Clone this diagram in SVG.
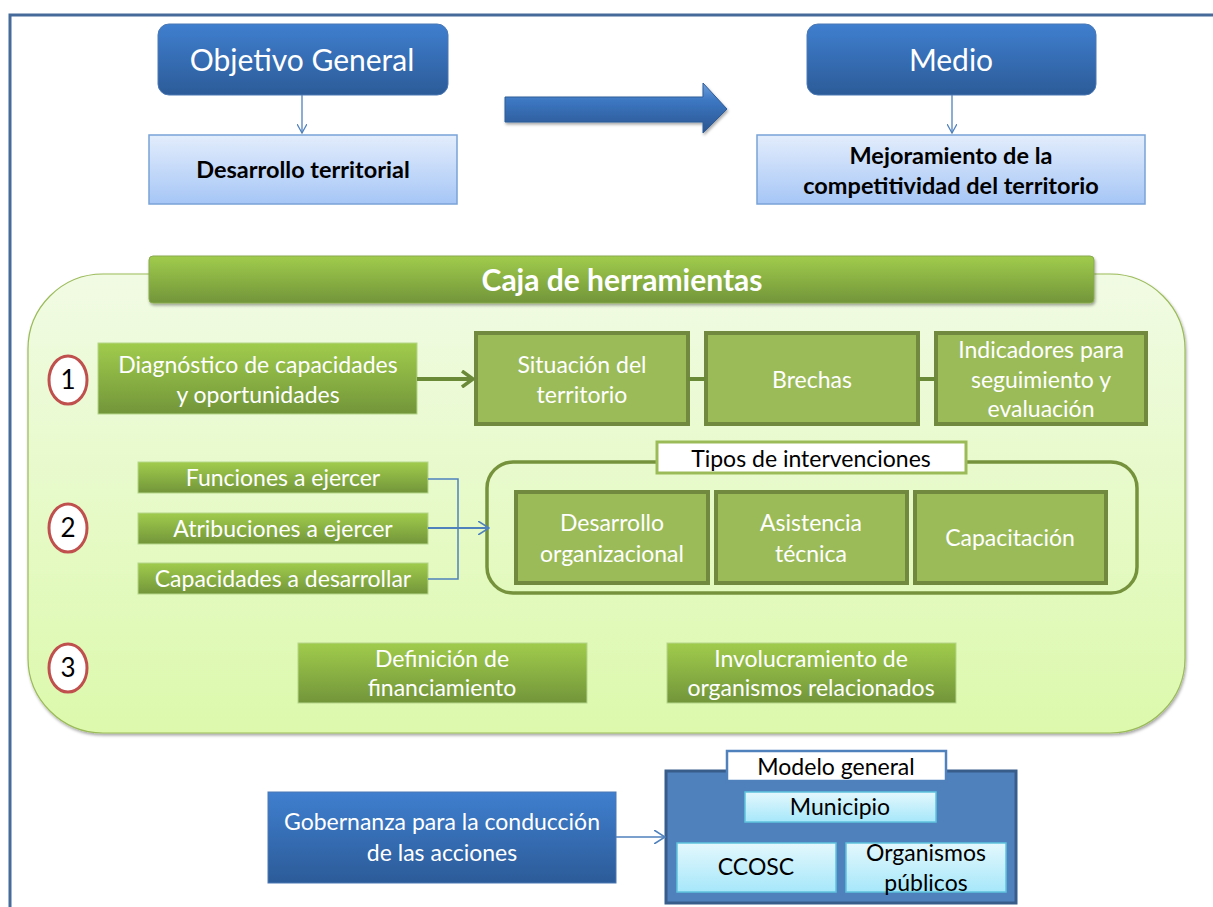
<svg xmlns="http://www.w3.org/2000/svg" width="1213" height="907" viewBox="0 0 1213 907">
<defs>
<linearGradient id="gBlue" x1="0" y1="0" x2="0" y2="1"><stop offset="0" stop-color="#3f7fcf"/><stop offset="1" stop-color="#2c5b98"/></linearGradient>
<linearGradient id="gLight" x1="0" y1="0" x2="0" y2="1"><stop offset="0" stop-color="#e3edfc"/><stop offset="1" stop-color="#a6c6f6"/></linearGradient>
<linearGradient id="gGreen" x1="0" y1="0" x2="0" y2="1"><stop offset="0" stop-color="#a0cc4c"/><stop offset="1" stop-color="#72953a"/></linearGradient>
<linearGradient id="gCaja" x1="0" y1="0" x2="0" y2="1"><stop offset="0" stop-color="#f1fbe4"/><stop offset="1" stop-color="#dcf9ac"/></linearGradient>
<linearGradient id="gCyan" x1="0" y1="0" x2="0" y2="1"><stop offset="0" stop-color="#e4f8fd"/><stop offset="1" stop-color="#a6e7fa"/></linearGradient>
<linearGradient id="gArrow" x1="0" y1="0" x2="0" y2="1"><stop offset="0" stop-color="#6fa0de"/><stop offset="0.35" stop-color="#3c77c2"/><stop offset="1" stop-color="#2a5590"/></linearGradient>
<filter id="sh" x="-5%" y="-5%" width="110%" height="120%"><feDropShadow dx="1" dy="2" stdDeviation="1.5" flood-color="#000" flood-opacity="0.35"/></filter>
<marker id="mBlue" viewBox="0 0 10 10" refX="9" refY="5" markerWidth="10" markerHeight="10" markerUnits="userSpaceOnUse" orient="auto"><path d="M0,0 L9,5 L0,10" fill="none" stroke="#4f81bd" stroke-width="1.3"/></marker>
<marker id="mBlueL" viewBox="0 0 12 14" refX="11" refY="7" markerWidth="12" markerHeight="14" markerUnits="userSpaceOnUse" orient="auto"><path d="M0,0 L11,7 L0,14" fill="none" stroke="#4f81bd" stroke-width="1.6"/></marker>
<marker id="mGreen" viewBox="0 0 14 18" refX="12" refY="9" markerWidth="14" markerHeight="18" markerUnits="userSpaceOnUse" orient="auto"><path d="M1,1 L12,9 L1,17" fill="none" stroke="#6a8a38" stroke-width="3.5"/></marker>
</defs>
<style>
text{font-family:Lato,"Liberation Sans",sans-serif;text-anchor:middle}
.w{fill:#ffffff;font-size:23px}
.k{fill:#000000;font-size:23px}
.b{fill:#000000;font-size:23.5px;font-weight:bold}
.big{fill:#ffffff;font-size:30px}
.num{fill:#000000;font-size:26px}
.blueBox{fill:url(#gBlue);stroke:#4a78b4;stroke-width:1}
.lightBox{fill:url(#gLight);stroke:#7aa2d8;stroke-width:1.5}
.greenBox{fill:url(#gGreen);stroke:#b5d68a;stroke-width:1}
.olive{fill:#9bbb59;stroke:#71893f;stroke-width:4}
.cyanBox{fill:url(#gCyan);stroke:#5fc2dd;stroke-width:1.5}
.circ{fill:#ffffff;stroke:#c0504d;stroke-width:3}
</style>

<g id="frame"><path d="M10,907 L10,15 L1213,15" fill="none" stroke="#466a9a" stroke-width="3"/></g>

<g id="objetivo"><rect class="blueBox" x="158" y="24" width="290" height="71" rx="11"/><text class="big" x="302" y="71">Objetivo General</text></g>
<g id="desarrollo-territorial"><rect class="lightBox" x="149" y="135" width="308" height="69"/><text class="b" x="303" y="178">Desarrollo territorial</text></g>
<g id="block-arrow"><path d="M505,97 L703,97 L703,83 L727,109 L703,133 L703,122 L505,122 Z" fill="url(#gArrow)" stroke="#2e5c99" stroke-width="1" filter="url(#sh)"/></g>
<g id="medio"><rect class="blueBox" x="807" y="24" width="289" height="71" rx="11"/><text class="big" x="951" y="71">Medio</text></g>
<g id="mejoramiento"><rect class="lightBox" x="757" y="135" width="388" height="69"/><text class="b" x="951" y="164">Mejoramiento de la</text><text class="b" x="951" y="194">competitividad del territorio</text></g>

<g id="caja"><rect x="28" y="274" width="1157" height="459" rx="75" fill="url(#gCaja)" stroke="#9bbb59" stroke-width="1.2" filter="url(#sh)"/></g>
<g id="caja-title"><rect x="149" y="256" width="945" height="47" rx="4" fill="url(#gGreen)" stroke="#8aaa50" stroke-width="1" filter="url(#sh)"/><text x="622" y="291" style="fill:#ffffff;font-size:30px;font-weight:bold">Caja de herramientas</text></g>

<g id="n1"><ellipse class="circ" cx="68" cy="380" rx="19" ry="24"/><text class="num" x="68" y="389">1</text></g>
<g id="diagnostico"><rect class="greenBox" x="98" y="343" width="319" height="71"/><text class="w" x="258" y="373">Diagnóstico de capacidades</text><text class="w" x="258" y="403">y oportunidades</text></g>
<g id="situacion"><rect class="olive" x="476" y="333" width="212" height="91"/><text class="w" x="582" y="373">Situación del</text><text class="w" x="582" y="403">territorio</text></g>
<g id="brechas"><rect class="olive" x="706" y="333" width="212" height="91"/><text class="w" x="812" y="388">Brechas</text></g>
<g id="indicadores"><rect class="olive" x="936" y="333" width="210" height="91"/><text class="w" x="1041" y="358">Indicadores para</text><text class="w" x="1041" y="388">seguimiento y</text><text class="w" x="1041" y="417">evaluación</text></g>

<g id="n2"><ellipse class="circ" cx="68" cy="528" rx="19" ry="24"/><text class="num" x="68" y="537">2</text></g>
<g id="funciones"><rect class="greenBox" x="138" y="462" width="290" height="31"/><text class="w" x="283" y="486">Funciones a ejercer</text></g>
<g id="atribuciones"><rect class="greenBox" x="138" y="513" width="290" height="31"/><text class="w" x="283" y="537">Atribuciones a ejercer</text></g>
<g id="capacidades"><rect class="greenBox" x="138" y="563" width="290" height="31"/><text class="w" x="283" y="587">Capacidades a desarrollar</text></g>

<g id="tipos"><rect x="487" y="462" width="650" height="131" rx="26" fill="none" stroke="#76923c" stroke-width="3.5"/><rect x="657" y="442" width="309" height="31" fill="#ffffff" stroke="#9bbb59" stroke-width="3"/><text class="k" x="811" y="467">Tipos de intervenciones</text></g>
<g id="desarrollo-org"><rect class="olive" x="516" y="492" width="192" height="91"/><text class="w" x="612" y="531">Desarrollo</text><text class="w" x="612" y="562">organizacional</text></g>
<g id="asistencia"><rect class="olive" x="716" y="492" width="191" height="91"/><text class="w" x="811" y="531">Asistencia</text><text class="w" x="811" y="562">técnica</text></g>
<g id="capacitacion"><rect class="olive" x="915" y="492" width="191" height="91"/><text class="w" x="1010" y="546">Capacitación</text></g>

<g id="n3"><ellipse class="circ" cx="68" cy="668" rx="19" ry="24"/><text class="num" x="68" y="677">3</text></g>
<g id="definicion"><rect class="greenBox" x="298" y="643" width="289" height="60"/><text class="w" x="442" y="667">Definición de</text><text class="w" x="442" y="696">financiamiento</text></g>
<g id="involucramiento"><rect class="greenBox" x="667" y="643" width="289" height="60"/><text class="w" x="811" y="667">Involucramiento de</text><text class="w" x="811" y="696">organismos relacionados</text></g>

<g id="gobernanza"><rect class="blueBox" x="268" y="792" width="348" height="91"/><text class="w" x="442" y="830">Gobernanza para la conducción</text><text class="w" x="442" y="861">de las acciones</text></g>
<g id="modelo"><rect x="666" y="771" width="350" height="132" fill="#4f81bd" stroke="#385d8a" stroke-width="3"/><rect x="727" y="751" width="219" height="30" fill="#ffffff" stroke="#4f81bd" stroke-width="2.5"/><text class="k" x="836" y="775">Modelo general</text></g>
<g id="municipio"><rect class="cyanBox" x="745" y="792" width="191" height="30"/><text class="k" x="840" y="815">Municipio</text></g>
<g id="ccosc"><rect class="cyanBox" x="677" y="843" width="159" height="49"/><text class="k" x="756" y="875">CCOSC</text></g>
<g id="organismos"><rect class="cyanBox" x="846" y="843" width="160" height="49"/><text class="k" x="926" y="861">Organismos</text><text class="k" x="926" y="891">públicos</text></g>

<g id="connectors" fill="none">
<path d="M302,95 L302,133" stroke="#4f81bd" stroke-width="1.3" marker-end="url(#mBlue)"/>
<path d="M952,95 L952,133" stroke="#4f81bd" stroke-width="1.3" marker-end="url(#mBlue)"/>
<path d="M417,379 L473,379" stroke="#6a8a38" stroke-width="4" marker-end="url(#mGreen)"/>
<path d="M688,379 L706,379" stroke="#6a8a38" stroke-width="4"/>
<path d="M918,379 L936,379" stroke="#6a8a38" stroke-width="4"/>
<path d="M428,479 L458,479 L458,579 L428,579" stroke="#4f81bd" stroke-width="1.5"/>
<path d="M428,528 L489,528" stroke="#4f81bd" stroke-width="1.8" marker-end="url(#mBlueL)"/>
<path d="M616,837 L665,837" stroke="#4f81bd" stroke-width="1.3" marker-end="url(#mBlueL)"/>
</g>
</svg>
